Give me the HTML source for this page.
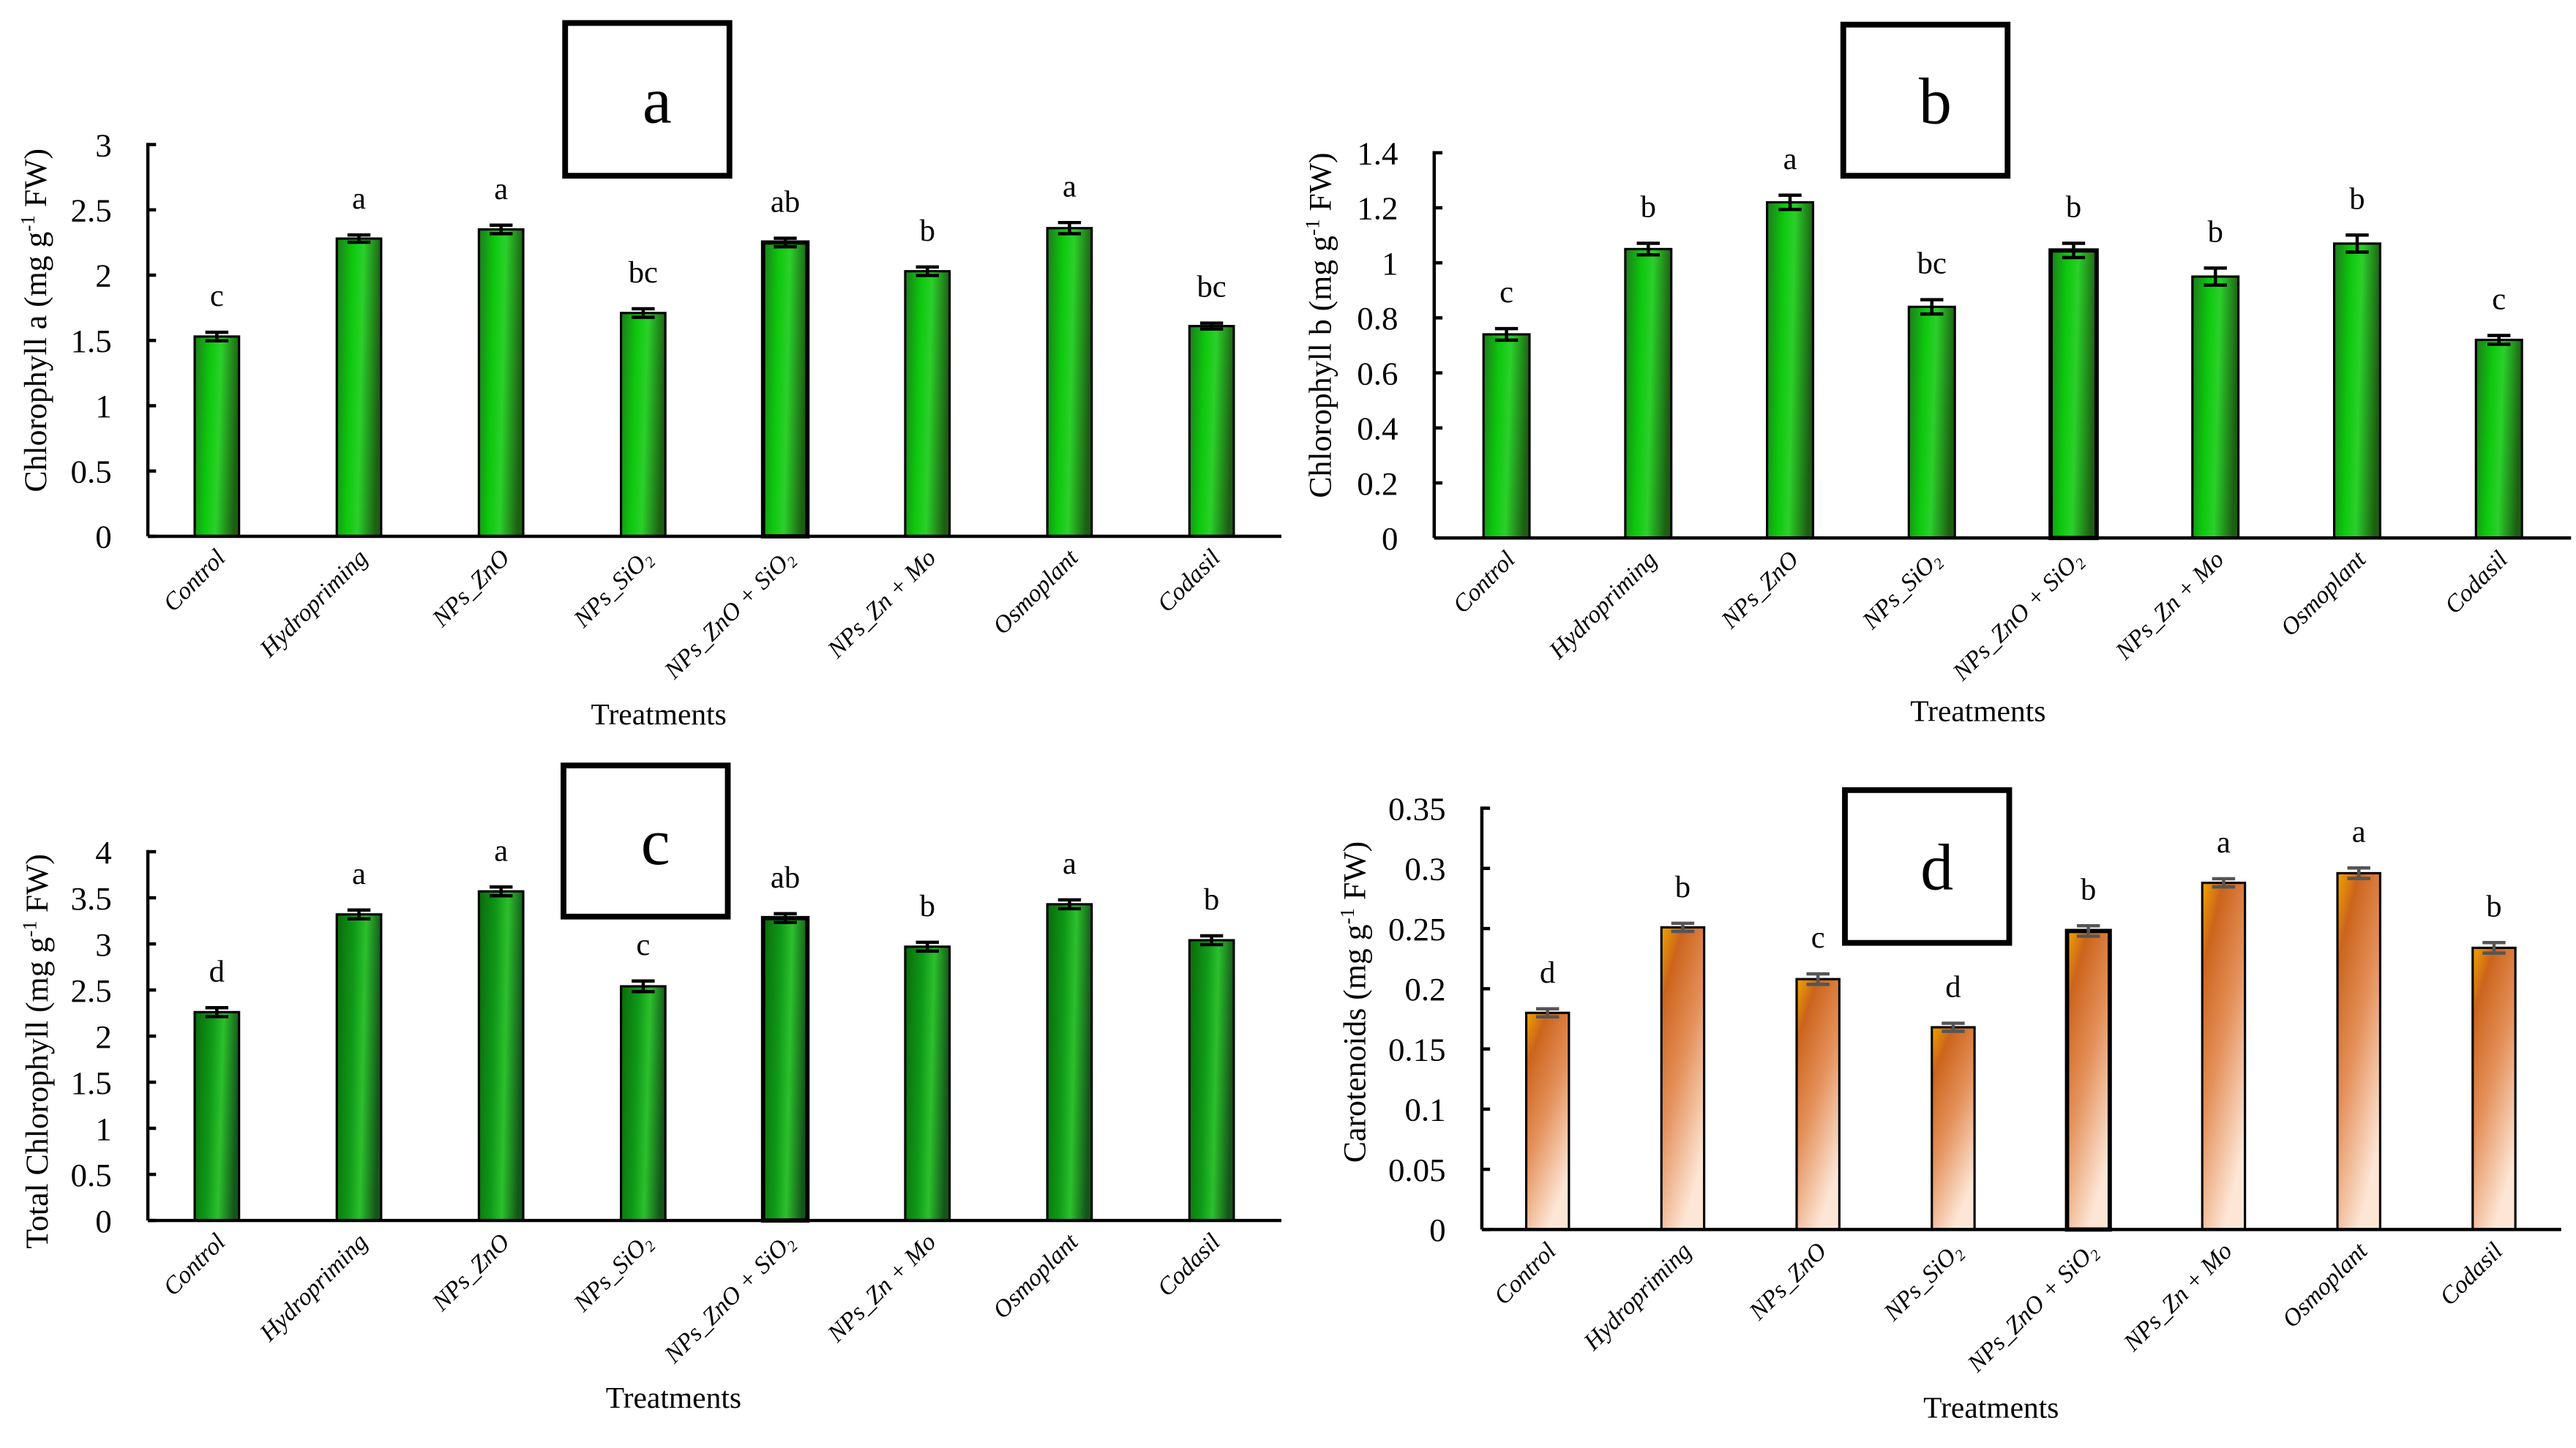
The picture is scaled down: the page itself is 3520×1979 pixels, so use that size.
<!DOCTYPE html>
<html><head><meta charset="utf-8"><style>
html,body{margin:0;padding:0;background:#fff;}
svg{display:block;}
text{font-family:"Liberation Serif",serif;fill:#000;}
</style></head><body>
<svg id="fig" width="3520" height="1979" viewBox="0 0 1568 881.5" preserveAspectRatio="none" xmlns="http://www.w3.org/2000/svg">
<defs>
<linearGradient id="gGreen" x1="0" y1="0" x2="1" y2="0.15">
<stop offset="0" stop-color="#1f7a1f"/><stop offset="0.35" stop-color="#0cc80c"/><stop offset="0.6" stop-color="#2bd02b"/><stop offset="1" stop-color="#1d5e12"/>
</linearGradient>
<linearGradient id="gGreenDark" x1="0" y1="0" x2="1" y2="0.15">
<stop offset="0" stop-color="#0a6a0a"/><stop offset="0.4" stop-color="#0f9a18"/><stop offset="0.65" stop-color="#2cc02c"/><stop offset="1" stop-color="#14561a"/>
</linearGradient>
<linearGradient id="gOrange" x1="0" y1="0" x2="0.5" y2="1">
<stop offset="0" stop-color="#f0a400"/><stop offset="0.2" stop-color="#cc641c"/><stop offset="0.55" stop-color="#e4905a"/><stop offset="1" stop-color="#fde6d6"/>
</linearGradient>
</defs>
</svg>
<script>
const categories = ["Control","Hydropriming","NPs_ZnO","NPs_SiO2","NPs_ZnO + SiO2","NPs_Zn + Mo","Osmoplant","Codasil"];
const chlA = [1.53,2.28,2.35,1.71,2.25,2.03,2.36,1.61];
const chlAErr = [0.02,0.015,0.02,0.02,0.02,0.02,0.03,0.01];
const chlALetters = ["c","a","a","bc","ab","b","a","bc"];
const chlB = [0.74,1.05,1.22,0.84,1.045,0.95,1.07,0.72];
const chlBErr = [0.015,0.015,0.02,0.02,0.02,0.025,0.025,0.01];
const chlBLetters = ["c","b","a","bc","b","b","b","c"];
const chlT = [2.26,3.32,3.57,2.54,3.28,2.97,3.43,3.04];
const chlTErr = [0.03,0.03,0.03,0.04,0.03,0.03,0.03,0.03];
const chlTLetters = ["d","a","a","c","ab","b","a","b"];
const carot = [0.18,0.251,0.208,0.168,0.248,0.288,0.296,0.234];
const carotErr = [0.002,0.002,0.003,0.002,0.003,0.002,0.003,0.003];
const carotLetters = ["d","b","c","d","b","a","a","b"];
const ticksA = [0,0.5,1,1.5,2,2.5,3];
const ticksB = [0,0.2,0.4,0.6,0.8,1,1.2,1.4];
const ticksT = [0,0.5,1,1.5,2,2.5,3,3.5,4];
const ticksD = [0,0.05,0.1,0.15,0.2,0.25,0.3,0.35];

const NS="http://www.w3.org/2000/svg";
const svg=document.getElementById('fig');
function mk(tag,attrs,parent){const e=document.createElementNS(NS,tag);for(const k in attrs)e.setAttribute(k,attrs[k]);(parent||svg).appendChild(e);return e;}

function panel(cfg){
  const g=mk('g',{});
  
  
  const ymax=cfg.ticks[cfg.ticks.length-1];
  const yS=v=>cfg.y0-(v/ymax)*(cfg.y0-cfg.yTop);
  const xS=i=>cfg.x1+i*cfg.step;
  cfg.values.forEach((v,i)=>{
    const cx=xS(i), top=yS(v);
    const r=mk('rect',{x:cx-cfg.bw/2,y:top,width:cfg.bw,height:cfg.y0-top,fill:cfg.fill,stroke:'#000','stroke-width':i===4?2.6:1.4},g);
    
    
    const e=cfg.errs[i], ec=cfg.errColor;
    const eb=mk('g',{stroke:ec,'stroke-width':2},g);
    
    
    mk('line',{x1:cx,x2:cx,y1:yS(v+e)-1,y2:yS(v-e)+1},eb);
    mk('line',{x1:cx-7,x2:cx+7,y1:yS(v+e)-1,y2:yS(v+e)-1},eb);
    mk('line',{x1:cx-7,x2:cx+7,y1:yS(v-e)+1,y2:yS(v-e)+1},eb);
    const t=mk('text',{x:cx,y:yS(v+e)-17,'text-anchor':'middle','font-size':19},g);
    t.textContent=cfg.letters[i];
    
    
    const lx=cx+6, ly=cfg.y0+14;
    const c=mk('text',{x:lx,y:ly,'text-anchor':'end','font-size':15,'font-style':'italic',transform:`rotate(-45 ${lx} ${ly})`},g);
    const nm=categories[i];
    if(nm.includes('SiO2')){
      const parts=nm.split('SiO2');
      c.appendChild(document.createTextNode(parts[0]+'SiO'));
      const s=mk('tspan',{'font-size':9.5,dy:3},c); s.textContent='2';
    } else c.textContent=nm;
    
    
  });
  const ax=mk('g',{stroke:'#000','stroke-width':2},g);
  
  
  mk('line',{x1:cfg.x0,x2:cfg.x0,y1:cfg.yTop-1,y2:cfg.y0},ax);
  mk('line',{x1:cfg.x0,x2:cfg.xEnd,y1:cfg.y0,y2:cfg.y0},ax);
  cfg.ticks.forEach(t=>{
    mk('line',{x1:cfg.x0,x2:cfg.x0+5,y1:yS(t),y2:yS(t)},ax);
    const tl=mk('text',{x:cfg.x0-22,y:yS(t)+7,'text-anchor':'end','font-size':20},g);
    tl.textContent=String(t);
    
    
  });
  const yt=mk('text',{x:cfg.ytx,y:cfg.yty,'text-anchor':'middle','font-size':19.5,transform:`rotate(-90 ${cfg.ytx} ${cfg.yty})`},g);
  yt.appendChild(document.createTextNode(cfg.ytitle+' (mg g'));
  const sp=mk('tspan',{'font-size':12,dy:-7},yt); sp.textContent='-1';
  const sp2=mk('tspan',{dy:7},yt); sp2.textContent=' FW)';
  
  
  const xt=mk('text',{x:cfg.xtx,y:cfg.xty,'text-anchor':'middle','font-size':18.5},g);
  xt.textContent='Treatments';
  
  
  const bx=mk('rect',{x:cfg.box[0],y:cfg.box[1],width:cfg.box[2],height:cfg.box[3],fill:'#fff',stroke:'#000','stroke-width':3.5},g);
  
  
  const bt=mk('text',{x:cfg.box[0]+cfg.box[2]/2+6,y:cfg.box[1]+cfg.box[3]/2+14,'text-anchor':'middle','font-size':40},g);
  bt.textContent=cfg.label;
  
  
}

panel({name:'panel-a-chlorophyll-a',values:chlA,errs:chlAErr,letters:chlALetters,ticks:ticksA,x0:90,xEnd:780,y0:326.5,yTop:88,x1:132,step:86.5,bw:27,fill:'url(#gGreen)',errColor:'#000',ytitle:'Chlorophyll a',ytx:28,yty:195,xtx:401,xty:441,box:[344,14,100,93],label:'a'});
panel({name:'panel-b-chlorophyll-b',values:chlB,errs:chlBErr,letters:chlBLetters,ticks:ticksB,x0:873,xEnd:1565,y0:327.5,yTop:93,x1:917,step:86.3,bw:28,fill:'url(#gGreen)',errColor:'#000',ytitle:'Chlorophyll b',ytx:810,yty:198,xtx:1204,xty:439,box:[1122,15,100,92],label:'b'});
panel({name:'panel-c-total-chlorophyll',values:chlT,errs:chlTErr,letters:chlTLetters,ticks:ticksT,x0:90,xEnd:780,y0:743,yTop:518.5,x1:132,step:86.5,bw:27,fill:'url(#gGreenDark)',errColor:'#000',ytitle:'Total Chlorophyll',ytx:29,yty:640,xtx:410,xty:857,box:[343,466,100,92],label:'c'});
panel({name:'panel-d-carotenoids',values:carot,errs:carotErr,letters:carotLetters,ticks:ticksD,x0:902,xEnd:1559,y0:748.5,yTop:492,x1:942,step:82.3,bw:26,fill:'url(#gOrange)',errColor:'#555',ytitle:'Carotenoids',ytx:831,yty:610,xtx:1212,xty:863,box:[1123,481,100,93],label:'d'});
</script>
</body></html>
